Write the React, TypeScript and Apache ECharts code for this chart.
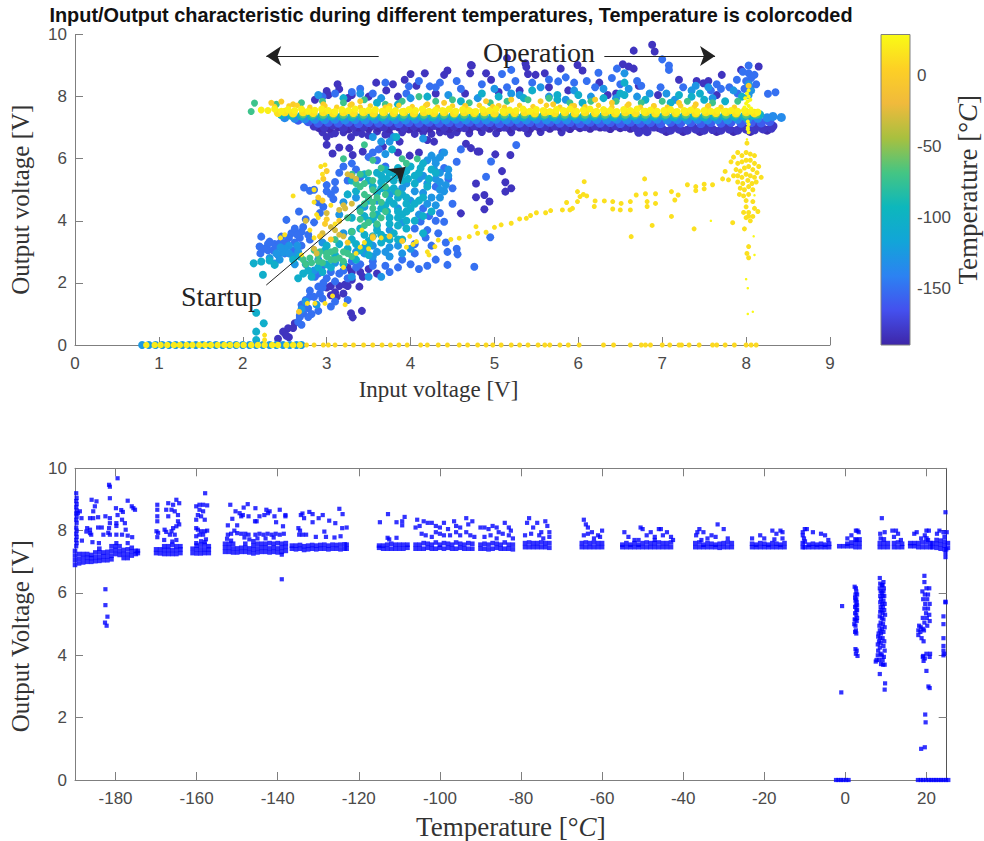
import React, { useEffect, useRef } from "react";
import * as echarts from "echarts";

const parula = ["#3E26A8", "#4450EE", "#2C82F2", "#12A5D8", "#0DB7BC", "#45C583", "#A8C03F", "#F0BA3C", "#FDD025", "#F9FB15"];
const tempTicks = [-180, -160, -140, -120, -100, -80, -60, -40, -20, 0, 20];
const cbarTicks = [-150, -100, -50, 0];

// ---- top chart: [inputV, outputV, ...] lists by temperature class
const bandPurple = [2.85,7.05,2.97,7.02,3.08,7.08,3.2,7.0,3.32,7.05,3.44,7.03,3.56,7.08,3.68,7.02,3.8,7.06,3.92,7.0,4.04,7.05,4.16,7.02,4.28,7.07,4.4,7.02,4.52,7.05,4.64,7.0,4.76,7.06,4.88,7.03,5,7.07,5.12,7.02,5.24,7.05,5.36,7.0,5.48,7.06,5.6,7.03,5.72,7.05,5.84,7.02,5.96,7.07,6.08,7.03,6.2,7.05,6.32,7.02,6.44,7.06,6.56,7.03,6.68,7.0,6.72,6.85,6.8,7.04,6.82,6.87,6.9,7.02,7.0,6.95,7.1,6.92,7.2,6.95,7.3,6.92,7.4,6.95,7.5,6.92,7.6,6.94,7.7,6.92,7.8,6.95,7.9,6.92,8.0,6.95,8.1,6.93,8.2,6.96,8.3,6.98,7.15,7.05,7.35,7.08,7.55,7.05,7.75,7.08,7.95,7.06,8.15,7.08,8.32,7.05];
const bandPurple2 = [2.91,7.0,3.03,6.98,3.14,7.03,3.26,6.96,3.38,7.02,3.5,6.98,3.62,7.0,3.74,6.97,3.86,7.02,3.98,6.96,4.1,7.0,4.22,6.98,4.34,7.02,4.46,6.97,4.58,7.0,4.7,6.96,4.82,7.02,4.94,6.98,5.06,7.0,5.18,6.97,5.3,7.02,5.42,6.96,5.54,7.0,5.66,6.98,5.78,7.02,5.9,6.97,6.02,7.0,6.14,6.98,6.26,7.02,6.38,6.97,6.5,7.0,6.62,6.98,6.76,7.0,6.96,7.0,7.05,6.88,7.25,6.88,7.45,6.88,7.65,6.88,7.85,6.88,8.05,6.88,8.25,6.92];
const bandIndigo = [2.66,7.25,2.78,7.2,2.9,7.15,3.02,7.18,3.14,7.15,3.26,7.18,3.38,7.14,3.5,7.17,3.62,7.15,3.74,7.18,3.86,7.14,3.98,7.17,4.1,7.15,4.22,7.18,4.34,7.15,4.46,7.17,4.58,7.14,4.7,7.18,4.82,7.15,4.94,7.17,5.06,7.14,5.18,7.18,5.3,7.15,5.42,7.17,5.54,7.14,5.66,7.18,5.78,7.15,5.9,7.17,6.02,7.14,6.14,7.18,6.26,7.15,6.38,7.17,6.5,7.14,6.62,7.18,6.74,7.15,6.86,7.17,6.98,7.14,7.1,7.18,7.22,7.15,7.34,7.17,7.46,7.14,7.58,7.17,7.7,7.15,7.82,7.18,7.94,7.15,8.06,7.17,8.18,7.16,8.28,7.2];
const bandBlue = [2.5,7.32,2.62,7.3,2.74,7.28,2.86,7.27,2.98,7.26,3.1,7.27,3.22,7.25,3.34,7.26,3.46,7.25,3.58,7.27,3.7,7.25,3.82,7.26,3.94,7.25,4.06,7.27,4.18,7.25,4.3,7.26,4.42,7.25,4.54,7.27,4.66,7.25,4.78,7.26,4.9,7.25,5.02,7.27,5.14,7.25,5.26,7.26,5.38,7.25,5.5,7.27,5.62,7.25,5.74,7.26,5.86,7.25,5.98,7.27,6.1,7.25,6.22,7.26,6.34,7.25,6.46,7.27,6.58,7.25,6.7,7.26,6.82,7.25,6.94,7.27,7.06,7.25,7.18,7.26,7.3,7.25,7.42,7.27,7.54,7.25,7.66,7.26,7.78,7.25,7.9,7.27,8.02,7.27,8.14,7.3,8.25,7.32,8.32,7.36,8.42,7.33];
const bandTeal = [2.46,7.42,2.58,7.4,2.7,7.38,2.82,7.37,2.94,7.36,3.06,7.37,3.18,7.36,3.3,7.35,3.42,7.36,3.54,7.37,3.66,7.35,3.78,7.36,3.9,7.35,4.02,7.37,4.14,7.36,4.26,7.35,4.38,7.37,4.5,7.36,4.62,7.35,4.74,7.36,4.86,7.37,4.98,7.35,5.1,7.36,5.22,7.37,5.34,7.35,5.46,7.36,5.58,7.37,5.7,7.35,5.82,7.36,5.94,7.37,6.06,7.35,6.18,7.36,6.3,7.37,6.42,7.35,6.54,7.36,6.66,7.37,6.78,7.35,6.9,7.36,7.02,7.37,7.14,7.35,7.26,7.36,7.38,7.37,7.5,7.35,7.62,7.36,7.74,7.37,7.86,7.36,7.98,7.37,8.08,7.4,8.16,7.42];
const bandGreen = [2.6,7.45,2.72,7.44,2.84,7.43,2.96,7.42,3.08,7.43,3.2,7.42,3.32,7.43,3.44,7.42,3.56,7.43,3.68,7.42,3.8,7.43,3.92,7.42,4.04,7.43,4.16,7.42,4.28,7.43,4.4,7.42,4.52,7.43,4.64,7.42,4.76,7.43,4.88,7.42,5,7.43,5.12,7.42,5.24,7.43,5.36,7.42,5.48,7.43,5.6,7.42,5.72,7.43,5.84,7.42,5.96,7.43,6.08,7.42,6.2,7.43,6.32,7.42,6.44,7.43,6.56,7.42,6.68,7.43,6.8,7.42,6.92,7.43,7.04,7.42,7.16,7.43,7.28,7.42,7.4,7.43,7.52,7.42,7.64,7.43,7.76,7.42,7.88,7.43,8,7.42,8.12,7.43];
const bandYellow = [2.22,7.57,2.3,7.55,2.38,7.6,2.46,7.53,2.54,7.58,2.62,7.55,2.7,7.6,2.78,7.53,2.86,7.56,2.94,7.6,3.02,7.55,3.1,7.52,3.18,7.58,3.26,7.55,3.34,7.6,3.42,7.53,3.5,7.56,3.58,7.58,3.66,7.53,3.74,7.6,3.82,7.55,3.9,7.52,3.98,7.58,4.06,7.55,4.14,7.6,4.22,7.53,4.3,7.57,4.38,7.55,4.46,7.6,4.54,7.53,4.62,7.58,4.7,7.55,4.78,7.52,4.86,7.58,4.94,7.55,5.02,7.6,5.1,7.53,5.18,7.57,5.26,7.55,5.34,7.6,5.42,7.53,5.5,7.58,5.58,7.55,5.66,7.52,5.74,7.58,5.82,7.55,5.9,7.6,5.98,7.53,6.06,7.57,6.14,7.6,6.22,7.53,6.3,7.58,6.38,7.55,6.46,7.52,6.54,7.58,6.62,7.55,6.7,7.6,6.78,7.53,6.86,7.57,6.94,7.53,7.02,7.55,7.1,7.58,7.18,7.52,7.26,7.55,7.34,7.57,7.42,7.52,7.5,7.55,7.58,7.53,7.66,7.55,7.74,7.52,7.82,7.55,7.9,7.53,7.98,7.55,8.06,7.53,8.14,7.5];
const bandYellow2 = [2.42,7.48,2.5,7.5,2.6,7.47,2.72,7.5,2.84,7.48,2.96,7.5,3.08,7.47,3.2,7.5,3.32,7.48,3.44,7.5,3.56,7.47,3.68,7.5,3.8,7.48,3.92,7.5,4.04,7.47,4.16,7.5,4.28,7.48,4.4,7.5,4.52,7.47,4.64,7.5,4.76,7.48,4.88,7.5,5,7.47,5.12,7.5,5.24,7.48,5.36,7.5,5.48,7.47,5.6,7.5,5.72,7.48,5.84,7.5,5.96,7.47,6.08,7.5,6.2,7.48,6.32,7.5,6.44,7.47,6.56,7.5,6.68,7.48,6.8,7.5,6.92,7.47,7.04,7.5,7.16,7.48,7.28,7.5,7.4,7.47,7.52,7.5,7.64,7.48,7.76,7.5,7.88,7.47,8,7.5,8.1,7.47];
const bandGold = [2.38,7.68,2.55,7.7,2.65,7.72,2.8,7.66,2.98,7.7,3.12,7.66,3.28,7.72,3.4,7.66,3.52,7.7,3.7,7.66,3.86,7.72,4.02,7.68,4.18,7.72,4.32,7.66,4.5,7.7,4.66,7.66,4.82,7.72,4.98,7.68,5.12,7.66,5.3,7.72,5.46,7.68,5.62,7.72,5.78,7.66,5.92,7.7,6.08,7.68,6.24,7.72,6.4,7.66,6.58,7.7,6.74,7.66,6.9,7.68,7.06,7.66,7.22,7.7,7.38,7.66,7.54,7.68,7.7,7.66,7.86,7.66];
const zeroBlue = [0.8,0,0.88,0,0.96,0,1.04,0,1.12,0,1.2,0,1.28,0,1.36,0,1.44,0,1.52,0,1.6,0,1.68,0,1.76,0,1.84,0,1.92,0,2,0,2.08,0,2.16,0,2.24,0,2.32,0,2.4,0,2.48,0,2.56,0,2.64,0,2.7,0];
const zeroYellow = [0.85,0,0.95,0,1.02,0,1.1,0,1.18,0,1.25,0,1.33,0,1.4,0,1.48,0,1.55,0,1.62,0,1.7,0,1.78,0,1.85,0,1.93,0,2.01,0,2.1,0,2.18,0,2.26,0,2.35,0,2.42,0,2.52,0,2.6,0,2.68,0];
const zeroGold = [2.76,0,2.85,0,2.96,0,3.02,0,3.1,0,3.22,0,3.32,0,3.44,0,3.55,0,3.66,0,3.76,0,3.86,0,3.96,0,4.12,0,4.2,0,4.33,0,4.44,0,4.58,0,4.68,0,4.8,0,4.9,0,4.98,0,5.08,0,5.2,0,5.3,0,5.4,0,5.52,0,5.6,0,5.66,0,5.78,0,5.88,0,6.01,0,6.3,0,6.42,0,6.62,0,6.75,0,6.8,0,6.86,0,7.0,0,7.09,0,7.2,0,7.23,0,7.32,0,7.44,0,7.6,0,7.65,0,7.75,0,7.86,0,8,0,8.06,0,8.12,0];
const purplePts = [6.88,9.67,6.66,9.48,6.91,9.45,5.15,9.24,5.37,9.07,5.38,8.95,4.72,9.02,5.49,8.7,5.6,8.75,4.9,8.75,4.96,8.54,5.4,8.73,5.79,8.9,6.05,8.84,5.99,9.02,6.53,9.04,6.6,8.97,6.66,8.9,7.2,8.54,7.71,8.7,7.94,8.86,8.15,8.97,4.73,9,4.71,8.75,4.44,8.84,4.17,8.75,4,8.73,3.59,8.45,3.13,8.4,3.93,8.54,3.79,8.4,4.07,8.35,3,8.18,3.15,8.24,3.02,8.05,2.86,7.9,3.71,8.2,4.4,8.7,3.0,6.7,3.06,6.8,3.29,6.7,3.2,6.85,3,6.45,3.15,6.36,3.27,6.34,3.07,6.17,3.31,6.12,3.43,6.23,3.67,6.39,3.87,6.55,4.2,6.6,4.28,6.55,4.48,6.77,4.66,6.48,4.8,6.23,4.78,5.2,4.78,4.76,4.6,4.24,4.72,6.34,4.82,6.23,5.01,6.14,5.19,6.12,5.09,5.6,5.13,5.24,5.2,5.05,5.13,4.94,4.88,4.83,4.94,4.62,4.88,4.37,3.99,6.1,3.85,6.2,4.1,6.2,4.35,6.85,3.5,6.75,3.35,6.85,3.75,6.8,3.9,6.85,4.05,6.8,2.5,0.38,2.42,0.2,2.54,0.54,2.48,0.43,3.29,1.02,3.31,0.89,3.42,1.1,3.2,1.66,3.39,1.88,3.43,2.2,3.1,1.7,3.05,1.9,3.3,2.35,3.5,2.45,7.49,8.43,7.41,8.5,6.72,8.35,6.45,8.1,
2.95,6.85,3.1,6.82,3.42,6.8,3.6,6.88,3.7,6.78,4.15,6.85,4.25,6.8,4.42,6.88,4.55,6.85,4.7,6.82,4.85,6.86,5.02,6.82,5.2,6.85,5.4,6.82,5.55,6.86,5.8,6.85,3.3,8.05,3.5,8,3.25,7.95,3.85,8.0,4.3,8.1,4.65,8.1,5.05,8.15,5.3,8.2,5.65,8.3,5.88,8.2,6.25,8.45,6.35,8.05,6.95,8.05,7.65,8.05,7.55,8.5,2.55,0.25,2.6,0.55,2.62,0.7,2.52,0.3,3.15,1.9,3.22,1.95,3.12,1.55,3.25,1.9,3.05,1.6,3.0,1.85,3.3,2.1,3.25,2.5,3.4,2.35,3.6,2.3];
const bluePts = [7,9.2,7.08,9,7.08,8.86,5.2,8.86,5.09,8.73,6.24,8.77,6.46,8.9,6.7,8.5,5.76,8.49,6.5,8.4,5.85,8.62,6.1,8.5,5.25,8.5,4.55,8.5,4.3,8.3,3.98,8.33,4.23,8.33,3.55,8.1,3.95,8.1,3.3,8.15,8.03,9,7.96,8.8,8.03,8.75,8.06,8.6,8,8.5,7.89,8.54,7.8,8.3,7.65,8.4,7.58,8.2,7.9,8.1,8.26,8.09,8.35,8.14,8.05,8.3,8.1,8.7,5.26,6.44,4.96,5.91,4.9,5.42,4.95,3.47,4.76,2.52,4.44,2.58,4.56,2.92,4.44,3,4.4,3.97,4.12,3.98,4.18,3.46,4.33,3.6,4.22,4.15,4.5,4.55,4.6,6.3,4.55,5.9,4.4,5.7,4.45,5.35,4.5,5.05,4.3,5.1,4.38,6.2,2.22,3.49,2.2,3.17,2.21,2.95,2.32,3.33,2.38,3.25,2.46,3.49,2.52,4.03,2.67,4.3,2.73,5.07,2.8,4.97,2.58,3.6,2.62,3.75,2.7,3.65,2.5,3.1,2.6,3.05,2.42,2.9,2.3,3.05,2.9,4.6,2.85,3.95,2.75,4.05,2.8,3.4,3.0,5.15,3.05,4.85,3.3,5.85,3.15,5.55,3.1,5.0,3.4,5.4,3.6,5.95,3.7,5.75,2.66,0.75,2.72,1.02,2.78,1.18,2.8,1.56,2.9,1.88,3.05,1.24,3.1,1.4,2.86,2.2,3.0,2.15,3.15,2.3,3.35,2.5,3.55,2.7,3.7,2.55,3.9,2.75,4.05,2.95,4.1,2.45,3.3,2.7,2.95,2.55,2.95,1.5,3.25,1.45,
2.3,3.25,2.36,3.05,2.25,3.1,2.4,3.15,2.45,3.3,2.52,3.3,2.55,3.45,2.5,2.95,2.62,3.3,2.68,3.45,2.7,3.2,2.78,3.55,2.72,3.8,2.65,3.55,2.68,0.9,2.7,1.3,2.75,1.45,2.8,1.75,2.85,1.55,2.92,1.65,2.95,1.85,2.9,1.1,2.82,1.0,2.78,0.9,2.7,0.65,2.68,0.95,2.96,2.0,3.1,2.05,3.25,2.15,2.9,2.3,3.05,2.35,3.2,2.4,3.4,2.6,3.55,2.55,3.75,2.35,3.85,2.5,4.0,2.6,4.2,2.55,4.3,2.75,4.05,3.25,4.2,3.7,4.05,3.75,4.3,4.0,4.15,4.4,4.35,4.25,4.25,3.2,4.42,3.3,4.55,3.1,3.5,6.05,3.55,6.2,3.62,6.3,3.35,5.65,3.2,5.75,2.85,5.0,2.92,4.25,2.96,4.45,3.08,4.7,3.0,4.95,3.1,5.25,3.25,5.3,
3.4,8.25,3.7,8.45,4.1,8.5,4.35,8.45,4.6,8.25,4.85,8.4,5.15,8.3,5.45,8.45,5.65,8.55,5.95,8.45,6.2,8.3,6.4,8.6,6.75,8.35,6.98,8.3,7.25,8.3,7.7,8.25,7.98,8.25,8.12,8.4,2.95,8.0,3.1,8.1];
const skyPts = [6.55,8.75,7.4,8.35,5.3,8.05,5.55,8.3,5.95,8.2,6.3,8.25,6.6,8.25,6.85,8.1,7.05,8.1,7.35,8.2,7.55,8.3,8.03,8.4,8.06,8.2,8.03,8.05,3.55,6.7,3.8,6.7,4.15,6.65,4.25,6.1,4.3,5.85,4.4,6.2,4.35,5.55,4.45,5.65,4.2,5.2,4.15,4.9,4.4,4.95,4.3,4.5,3.95,5.2,4,4.65,4.1,4.2,3.9,3.95,3.75,3.7,3.55,3.2,3.7,3.0,3.55,2.85,3.35,3.0,3.1,2.65,2.9,2.75,2.65,3.2,2.55,3.2,2.48,2.98,2.44,2.75,2.38,2.62,2.32,2.8,3.2,3.6,3.15,4.2,3.2,4.6,3.35,4.75,2.75,1.4,2.88,1.3,2.7,1.15,2.85,2.4,3.45,3.15,3.85,4.4,2.95,3.3,
2.9,8.05,3.4,8.1,3.65,7.95,4.0,7.95,4.45,8.05,4.8,7.95,5.0,8.25,5.2,8.1,5.65,8.0,5.85,7.9,6.15,8.0,6.45,7.95,6.7,8.0,7.15,7.9,7.6,7.95,7.85,8.2,
2.5,3.1,2.55,2.95,2.6,2.85,2.66,3.0,2.45,3.15,2.4,2.95,2.75,2.6,2.62,2.6,3.3,2.2,3.5,2.2,3.65,2.2,3.45,2.95,3.6,3.0,3.75,3.15,3.85,3.2,3.9,2.95,4.0,3.1,3.75,2.85,3.45,4.45,3.6,4.65,3.75,4.85,3.9,5.05,4.1,5.35,4.3,5.35,4.35,5.0,4.25,4.75,4.35,4.75,4.2,4.55,4.05,4.95,4.3,5.95,4.2,5.95,4.35,6.05,4.28,5.65,4.15,5.45,4.35,5.25,4.42,5.15,4.45,5.45,3.7,6.15,3.75,6.55,3.65,6.55];
const cyanPts = [5.45,8.2,5.75,8.05,6,8.05,6.55,8.45,6.5,8.1,7.2,8.05,7.45,8.1,2.13,2.63,2.22,2.69,2.24,2.26,2.38,2.58,2.32,2.72,2.16,1.04,2.16,0.43,2.16,0.16,2.25,0.7,2.82,2.2,2.72,2.3,2.66,2.15,2.9,2.5,3,2.6,3.1,2.9,3.25,3.1,3.3,3.4,3.45,3.55,3.6,3.7,3.75,3.9,3.85,4.1,3.95,4.3,4.05,4.55,4.15,4.75,3.85,4.75,3.7,4.5,3.6,4.2,3.5,4.0,3.9,5.3,3.95,5.6,4.05,5.2,4.1,5.55,4.15,5.85,3.8,5.05,3.65,5.25,3.5,4.65,3.4,4.4,3.3,4.1,3.75,5.55,3.6,4.9,4.2,5.1,4.25,5.65,3.78,6.3,3.83,6.7,3.7,3.45,3.9,3.4,3.55,3.5,
3.2,7.95,3.6,7.8,3.85,7.75,4.2,8.0,4.6,7.85,4.85,8.1,5.05,8.0,5.35,7.95,5.75,7.9,6.05,7.8,6.3,7.95,6.55,8.05,6.8,7.9,7.1,7.8,7.35,8.0,7.5,7.9,7.75,7.85,7.95,8.0,
2.6,2.75,2.68,2.85,2.78,2.4,2.95,2.35,3.05,2.5,3.2,2.6,3.35,2.75,3.5,2.9,3.65,3.3,3.8,3.6,3.95,3.75,4.05,4.0,4.15,4.15,3.95,4.0,3.85,3.85,3.65,3.55,3.5,3.35,3.35,3.25,3.3,3.65,3.45,4.15,3.55,4.05,3.65,4.4,3.8,4.55,3.95,4.55,4.1,4.65,3.9,4.85,3.75,4.65,3.65,5.05,3.55,5.1,3.5,5.3,3.65,5.45,3.8,5.3,3.9,5.5,4.05,5.45,4.0,5.75,3.85,5.7,4.12,5.7,3.7,5.65,3.6,5.55,3.45,5.5,3.3,5.3,3.35,4.95,3.25,4.85,3.4,3.75,
3.75,4.1,3.9,4.2,3.72,4.3,3.85,4.3,4.0,4.4,3.95,4.75,3.82,4.95,3.72,5.0,3.6,3.85,3.75,3.4,3.85,3.4,3.15,3.25,3.0,3.2,2.98,3.05,3.4,3.05,3.5,3.2,4.25,4.3,4.15,3.6,4.22,5.35,4.3,5.55,3.97,5.35,3.72,5.35,3.82,5.45];
const greenPts = [2.4,7.75,2.14,7.79,2.1,7.52,2.7,7.8,2.95,7.85,3.2,7.8,3.45,7.9,3.7,7.75,3.9,7.85,4.1,8,4.3,7.85,4.5,7.9,4.7,7.8,4.95,7.8,5.15,7.85,5.4,7.9,5.65,7.95,5.9,7.8,6.15,7.85,6.45,7.85,6.75,7.8,7,7.85,7.3,7.85,7.6,7.8,7.9,7.85,3.45,6.45,3.2,6.0,3.55,5.95,3.9,6.0,3.95,5.85,4.08,6.0,3.3,5.5,3.4,5.1,3.55,5.3,3.7,5.1,3.85,4.9,3.5,4.75,3.4,4.3,3.55,4.4,3.7,4.3,3.45,3.85,3.3,3.65,3.2,3.0,3.05,3.0,2.9,2.9,2.8,2.8,2.72,2.75,2.95,2.65,3.15,2.8,3.3,2.85,3.05,2.75,2.85,3.05,3.1,3.4,3.25,4.1,
2.75,2.6,2.82,2.65,2.9,2.7,3.0,2.85,3.1,2.75,3.2,2.7,3.25,2.95,3.0,2.95,2.92,3.0,3.1,3.05,3.55,4.6,3.45,4.55,3.55,4.2,3.6,3.9,3.65,4.1,3.5,3.95,3.4,4.05,3.45,4.85,3.6,4.75,3.45,5.2,3.55,5.0,3.35,5.2,3.65,4.6,3.7,4.85,3.5,5.55,3.65,5.7,3.4,5.5];
const olivePts = [3.25,5.5,3.3,5.45,3.35,5.35,3.2,4.5,3.15,4.35,3.05,3.8,3.2,3.5,2.95,3.6,2.85,3.1,3.3,4.55,3.0,4.25,2.75,4.0,3.55,3.5,2.88,2.95,3.22,4.4,3.1,3.7,3.15,3.55];
const orangePts = [2.34,7.8,2.46,7.84,2.6,7.75,2.96,7.75,3.3,7.75,3.75,7.7,4.2,7.75,4.65,7.7,5.05,7.7,5.55,7.85,5.95,7.7,6.4,7.8,6.9,7.7,7.4,7.75,7.55,7.7,8.03,8.35,3,5.6,2.96,5.35,2.9,4.75,2.95,4.65,3.0,4.05,2.98,3.9,3.15,4.0,2.92,3.5,3.05,3.4,3.25,3.3,2.67,1.07,3.55,3.45,3.75,3.5,3.9,3.35,3.4,7.85,4.4,7.8,4.9,7.85,5.2,7.9,5.7,7.75,6.2,7.9,6.6,7.75,7.2,7.8];
const goldPts = [2.93,5.75,2.98,5.8,2.95,5.5,2.9,5.25,2.85,5,2.6,4.8,2.85,4.6,2.88,4.2,2.9,4.1,3.05,4.5,3.1,3.9,2.8,3.7,2.85,3.45,2.5,3.55,2.45,3.45,2.7,2.9,3.4,3.15,3.45,3.3,3.35,2.95,3.42,3.7,3.2,2.5,3.22,1.3,3.07,1.58,2.98,1.34,2.86,1.34,2.77,1.34,3.5,3.1,3.65,3.45,3.95,3.15,2.26,0.32,2.26,0.16,4.48,3.4,4.58,3.44,4.7,3.49,4.78,3.81,4.8,3.6,4.29,3.17,4.33,3.38,4.2,3,4.22,2.9,4.07,3.33,3.99,3.5,4.03,3.24,4.9,3.63,5,3.79,5.08,3.87,5.2,3.92,5.3,4.06,5.38,4.08,5.43,4.17,5.5,4.26,5.61,4.26,5.67,4.33,5.81,4.35,5.9,4.35,5.86,4.59,5.93,4.4,5.99,4.62,5.99,4.94,6.02,4.78,6.07,5.26,6.1,4.8,6.06,4.85,6.2,4.64,6.19,4.46,6.31,4.64,6.41,4.62,6.41,4.38,6.51,4.56,6.5,4.35,6.62,4.62,6.62,4.35,6.69,4.83,6.63,3.49,6.79,5.35,6.8,4.87,6.82,4.62,6.82,4.46,6.92,4.87,6.92,4.56,6.88,3.85,7.11,4.94,7.11,4.14,7.15,4.67,7.19,4.83,7.3,5.16,7.4,5.1,7.4,4.97,7.5,5.18,7.5,5.03,7.6,5.16,7.38,3.74,7.84,3.94,7.75,5.59,7.72,5.35,7.79,5.32,7.98,3.74,8.01,6.5,7.85,6.05,7.9,6.2,7.95,6.1,8,6.2,8.05,6.15,8.1,6.1,7.82,5.9,7.9,5.85,7.95,5.9,8.0,5.95,8.05,5.95,8.1,5.85,8.15,5.75,7.88,5.65,7.93,5.6,7.98,5.7,8.03,5.75,8.08,5.65,8.13,5.55,7.85,5.45,7.9,5.45,7.95,5.4,8,5.5,8.05,5.45,8.1,5.4,8.18,5.4,7.9,5.25,7.96,5.2,8.02,5.3,8.07,5.2,8.12,5.25,7.93,5.05,7.98,5,8.03,5.1,8.08,5,7.92,4.85,7.97,4.8,8.03,4.85,8.0,4.65,8.08,4.62,8,4.45,8.1,4.4,7.97,4.27,8.03,4.27,8.14,4.3,8.08,4.14,8.03,4.15,8.05,4.0,8,4.1,8.03,3.17,8.01,2.95,8.03,2.81];
const spikeYellow = [8.02,7.0,8.03,6.85,8.02,7.2,8.03,7.7,8.02,7.85,8.03,8,8.01,8.1,8.03,8.2,7.98,7.65,8.06,7.62,8.0,7.78,8.05,7.9,7.99,7.95,8.02,6.95,8.03,7.1];
const tinyYellow = [7.58,4,8.09,3.5,8.1,2.9,8,2.12,8.02,1.83,8.02,1,8.08,1.07,8.01,6.62,8.1,4.82];
const topLayers = [
  [purplePts, -182, 8], [bluePts, -150, 8], [skyPts, -128, 8], [cyanPts, -105, 8], [greenPts, -72, 7], [olivePts, -28, 6], [orangePts, 0, 6],
  [bandPurple2, -187, 9], [bandPurple, -180, 9], [bandIndigo, -160, 9.5], [bandBlue, -135, 9], [bandTeal, -100, 9], [bandGreen, -65, 8.5], [bandGold, 5, 5.5], [bandYellow2, 15, 8.5], [bandYellow, 23, 7],
  [zeroBlue, -125, 8], [zeroYellow, 20, 6.5], [zeroGold, 10, 5], [goldPts, 14, 5], [spikeYellow, 28, 4], [tinyYellow, 28, 2.5],
];

const arrows = [
  { from: [3.62, 9.31], to: [2.28, 9.31] },
  { from: [6.31, 9.31], to: [7.63, 9.31] },
  { from: [2.28, 1.93], to: [3.94, 5.73] },
];

// ---- bottom chart: [temperature, output voltages...] of the solid band
const tempBand = [
  [-190,6.9,7.05,7.2,7.35],[-189,6.95,7.1,7.25],[-188,6.98,7.12,7.25],[-187,7,7.13,7.25],[-186,7,7.12,7.22],[-185,7.02,7.15,7.3],[-184,7.03,7.15,7.3,7.42],[-183,7.05,7.18,7.3],[-182,7.05,7.18,7.32],[-181,7.08,7.2,7.35,7.5],[-180,7.25,7.38,7.5],[-179,7.22,7.35,7.5],[-178,7.12,7.25,7.38],[-177,7.12,7.25,7.4],[-176,7.2,7.33,7.45],[-175,7.25,7.35],[-174.5,7.28,7.35],
  [-170,7.28,7.4],[-169,7.27,7.4],[-168,7.25,7.38,7.5],[-167,7.25,7.38,7.5],[-166,7.25,7.38,7.55],[-165,7.25,7.38,7.5],[-164,7.28,7.4,7.5],
  [-161,7.28,7.42],[-160,7.27,7.4,7.52],[-159,7.27,7.4,7.55],[-158,7.28,7.4,7.55],[-157,7.28,7.4,7.5],
  [-153,7.32,7.45,7.58],[-152,7.32,7.45,7.58],[-151,7.3,7.43,7.58],[-150,7.3,7.43],[-149,7.32,7.45],[-148,7.32,7.45,7.58],[-147,7.3,7.43],
  [-146,7.27,7.4,7.53,7.66],[-145,7.3,7.43,7.58],[-144,7.32,7.45,7.58],[-143,7.32,7.45,7.58],[-142,7.3,7.43,7.6],[-141,7.32,7.45,7.58],[-140,7.3,7.43,7.6],[-139,7.32,7.45,7.58],[-138,7.35,7.48,7.6],
  [-136.5,7.42,7.52],[-135.5,7.4,7.52],[-134.5,7.42,7.54],[-133.5,7.38,7.5],[-132.5,7.4,7.52],[-131.5,7.42,7.54],[-130.5,7.4,7.52],[-129.5,7.42,7.54],[-128.5,7.42,7.55],[-127.5,7.4,7.52],[-126.5,7.42,7.55],[-125.5,7.42,7.54],[-124.5,7.4,7.55],[-123.5,7.42,7.56],[-123,7.42,7.55],
  [-115,7.45,7.52],[-114,7.42,7.52],[-113,7.42,7.55],[-112,7.42,7.58],[-111,7.42,7.55],[-110,7.42,7.55],[-109,7.42,7.55],[-108,7.45,7.55],
  [-106,7.42,7.55],[-105,7.42,7.55],[-104,7.42,7.6],[-103,7.45,7.58],[-102,7.42,7.55],[-101,7.42,7.62],[-100,7.45,7.55],[-99,7.42,7.6],[-98,7.45,7.58],[-97,7.42,7.55],[-96,7.42,7.62],[-95,7.45,7.58],[-94,7.42,7.55],[-93,7.42,7.6],[-92,7.42,7.58],
  [-90,7.42,7.55],[-89,7.42,7.58],[-88,7.4,7.55],[-87,7.42,7.6],[-86,7.45,7.58],[-85,7.42,7.55],[-84,7.42,7.62],[-83,7.42,7.55],[-82,7.4,7.55],
  [-79,7.47,7.6],[-78,7.47,7.62],[-77,7.47,7.6],[-76,7.47,7.6],[-75,7.47,7.62],[-74,7.47,7.6],[-73,7.45,7.6],
  [-65,7.47,7.6],[-64,7.47,7.62],[-63,7.47,7.6],[-62,7.47,7.62],[-61,7.47,7.6],[-60,7.47,7.6],
  [-55,7.47,7.55],[-54,7.47,7.6],[-53,7.47,7.55],[-52,7.47,7.6],[-51,7.47,7.55],[-50,7.47,7.6],[-49,7.47,7.62],[-48,7.47,7.6],[-47,7.47,7.6],[-46,7.47,7.62],[-45,7.47,7.6],[-44,7.47,7.6],[-43,7.47,7.62],
  [-37,7.47,7.6],[-36,7.47,7.62],[-35,7.47,7.55],[-34,7.47,7.6],[-33,7.47,7.58],[-32,7.47,7.55],[-31,7.45,7.58],[-30,7.47,7.6],[-29,7.47,7.62],[-28,7.47,7.6],
  [-23,7.47,7.58],[-22,7.47,7.55],[-21,7.47,7.6],[-20,7.47,7.58],[-19,7.47,7.55],[-18,7.47,7.6],[-17,7.47,7.58],[-16,7.47,7.55],[-15,7.47,7.6],
  [-10.5,7.47,7.6],[-10,7.47,7.65],[-9,7.47,7.55],[-8,7.47,7.58],[-7,7.47,7.55],[-6,7.47,7.58],[-5,7.47,7.55],[-4,7.47,7.58],
  [-1.5,7.5],[-0.5,7.5],[0.5,7.5,7.58],[1.5,7.5,7.62],[2.5,7.47,7.6,7.72],[3.5,7.47,7.6,7.72],
  [8.5,7.47,7.6],[9.5,7.47,7.6,7.72],[10.5,7.47,7.6],[12,7.47,7.6],[13,7.47,7.62],[14,7.47,7.58],
  [16,7.5,7.6],[17,7.5,7.6],[18,7.47,7.6],[19,7.47,7.62],[20,7.47,7.62,7.75],[21,7.47,7.6],
  [21.5,7.47,7.6],[22.5,7.45,7.58,7.7],[23.5,7.42,7.55,7.68],[24.5,7.4,7.52,7.65,7.8],[25.3,7.45,7.6],
];
const tempScatter = [-189.7,9.2,-189.6,9.05,-189.7,8.95,-189.6,8.85,-189.7,8.75,-189.6,8.65,-189.7,8.55,-189.6,8.45,-189.7,8.35,-189.6,8.25,-189.7,8.1,-189.6,8,-189.7,7.9,-189.6,7.8,-189.7,7.7,-189.6,7.6,-189.7,7.5,-189.3,8.56,-188.8,8.62,-188.4,8.4,-188.3,7.68,-185.9,8.99,-184.7,8.94,-185.1,8.78,-185.5,8.62,-184.3,8.43,-186.3,8.4,-185.5,8.4,-184.3,8.1,-183.4,8.1,-187,8.08,-186.3,8.03,-187.2,7.97,-186.3,7.92,-186,7.87,-183,7.87,-184.1,7.6,-185.7,7.63,-182.5,8.46,-181.4,8.4,-181.4,8.24,-181.6,8.08,-181.8,7.93,-181.4,7.87,-181.6,9.47,-181.4,9.41,-179.5,9.68,-181.4,9.04,-179.9,8.72,-178.6,8.66,-178.2,8.6,-179.5,8.5,-178.4,8.35,-179.8,8.24,-179.8,8.15,-177.7,8.24,-177.5,8.03,-179.8,7.87,-178.4,7.87,-177,7.84,-175.9,7.79,-177,8.96,-176,8.78,-175.6,8.72,-175.2,8.67,-179.8,7.6,-177,7.6,-182.5,6.12,-182.5,5.61,-182,5.24,-182.6,5.05,-182.2,4.95,
-169.7,8.83,-169.7,8.67,-169.7,8.46,-169.7,8.3,-169.9,7.98,-169.5,7.93,-169.7,7.79,-167,8.88,-167.5,8.67,-167,8.46,-165,8.99,-164.3,8.88,-165.8,8.83,-166.2,8.67,-165.4,8.62,-164.6,8.5,-164.6,8.3,-164.3,8.2,-165,8.14,-165.8,8.08,-167.9,8.03,-166.2,7.98,-167.5,7.96,-165.4,7.87,-166.6,7.87,-168,7.7,-165,7.7,-166,7.65,
-157.9,9.2,-160.1,8.78,-159.3,8.83,-158.4,8.83,-157.4,8.81,-159.3,8.67,-158.4,8.62,-159.7,8.5,-158.9,8.46,-160.1,8.35,-158,8.35,-160.1,8.08,-159.7,8.03,-158.9,7.98,-158,7.98,-157.4,8,-159.3,7.87,-158.4,7.87,-160.1,7.82,-158.9,7.66,-157.7,7.72,-160.1,7.6,-158,7.63,
-151.7,8.83,-150.4,8.62,-149.4,8.56,-148.6,8.5,-147.4,8.85,-148.4,8.74,-149,8.46,-147.2,8.46,-151.2,8.38,-152.3,8.17,-150,8.17,-150.7,8,-152.3,7.87,-151.5,7.9,-150,7.92,-149,7.9,-148,7.9,-147.2,7.87,-152.5,7.74,-151.5,7.68,-148.2,7.78,-147,7.72,
-145.5,8.72,-145.2,8.3,-145.6,8.3,-144.5,8.46,-143.3,8.5,-142.4,8.56,-142,8.62,-142.8,8.67,-140.8,8.46,-140.4,8.27,-139.5,8.67,-138.1,8.5,-138.1,8.46,-138.7,8.14,-145.5,7.87,-144.5,7.9,-143.5,7.87,-142.5,7.9,-141.5,7.87,-140.5,7.9,-139.5,7.87,-138.5,7.9,-145,7.75,-143,7.75,-141,7.78,-139,7.23,-139,6.44,
-134.3,8.5,-133.9,8.55,-132.2,8.6,-131.4,8.53,-133.5,8.4,-131.4,8.27,-129.9,8.4,-128.9,8.5,-127.3,8.32,-125.8,8.24,-124.8,8.7,-124,8.53,-123,8.1,-124.1,8.08,-134.9,8.08,-134.5,8,-134.7,7.87,-133.9,7.87,-133,7.87,-130.6,7.8,-128.5,7.97,-128.1,7.8,-126,7.78,-124.5,7.82,
-114.8,8.27,-112.8,8.53,-110.7,8.27,-108.7,8.44,-109.3,8.3,-109.3,8.17,-112.9,7.77,-112.5,7.72,-110.7,7.77,
-106,8.1,-105.6,8.35,-105,8.15,-104,8.3,-103,8.25,-102,8.25,-101,8.15,-100,8.1,-99,8.25,-98,8.05,-96.5,8.3,-96,8.15,-95,8.1,-93.5,8.4,-93,8.2,-92,8.3,-104.5,7.9,-103.5,7.85,-102,7.8,-101,7.95,-100,7.9,-99,7.85,-97.5,7.85,-96,7.95,-95,7.85,-93.5,7.95,-92.5,7.85,-91.5,7.8,
-90,8.1,-89,8.1,-88,8.05,-87,8.15,-86,8.1,-85.5,7.95,-84,8.25,-83,8.1,-82.5,8,-89,7.8,-87.5,7.85,-86,7.75,-84.5,7.9,-83,7.85,-82,7.75,
-78,8.4,-78.5,8.25,-77,8.1,-76,8.25,-75,7.95,-74,8.3,-73.5,8.15,-73,7.95,-79,7.85,-77.5,7.9,-75.5,7.85,-74.5,7.75,-73,7.8,
-64.5,8.35,-64,8.2,-63.5,8.1,-62.5,7.95,-61,7.85,-60,8,-64.5,7.85,-63.5,7.9,-62,7.75,-60.5,7.8,
-54.5,7.95,-53.5,7.8,-52,7.7,-50.5,8.1,-50,8.05,-49,7.85,-48,7.95,-47,7.8,-46,8.05,-45.5,8.05,-45,7.85,-44,7.95,-43,7.8,-42.5,7.7,-51,7.7,-47,7.7,
-36.5,7.95,-36,8.05,-36.8,7.85,-35,7.95,-34,7.75,-33,7.85,-32,7.8,-31.5,8.2,-30,8.05,-35.5,7.7,-29,7.75,
-23,7.75,-21,7.85,-20,7.75,-18,8,-17,7.9,-16,8,-15.5,7.95,-15.5,7.75,-17.5,7.72,
-10.5,7.95,-10,8.05,-9.5,8.05,-10.5,7.85,-8,7.95,-6,7.9,-5,7.85,-4.2,7.7,-10.2,7.75,
0.5,7.75,1.5,7.85,2.6,8,3,8,3.3,7.95,2.8,7.7,
9,8.4,8.6,7.9,9.7,7.95,8.7,7.75,11.6,8,12.5,8,13,7.9,12,7.8,13.7,7.7,
17,7.9,17.6,7.95,18.7,7.75,20,8,20.6,8,19.6,7.85,20.4,7.7,
22.6,7.9,23.2,8,24.2,7.95,25,7.95,24.7,8.59,24.7,7.28,24.7,7.15,24.9,7.4,
-0.8,5.58,-1,2.81,
2.3,6.2,2.6,6.15,2.7,6.05,2.5,5.95,2.7,5.8,2.9,5.95,2.4,5.85,2.5,5.75,2.8,5.7,2.6,5.6,2.9,5.6,2.4,5.55,2.7,5.45,2.9,5.45,2.4,5.35,2.7,5.3,2.9,5.2,2.5,5.15,2.8,5.1,2.3,5.15,2.2,5.0,2.5,4.95,2.6,4.8,2.4,4.75,2.7,4.7,2.5,4.2,2.8,4.15,2.6,4.05,3,3.98,
8.5,6.48,9.4,6.35,9.2,6.25,8.6,6.3,9,6.25,8.5,6.15,9.5,6.15,8.7,6.05,9.4,6.05,9,6,8.6,5.9,9.2,5.9,9.6,5.9,8.8,5.8,9.4,5.75,8.6,5.7,9.1,5.65,9.7,5.65,8.7,5.55,9.3,5.55,8.9,5.45,9.6,5.45,8.6,5.4,9.2,5.35,9.8,5.3,8.5,5.25,9,5.2,9.4,5.15,8.7,5.05,9.3,5,8.4,4.95,9.7,4.9,9,4.85,8.5,4.8,9.4,4.75,8.2,4.7,8.8,4.7,8.1,4.6,8.6,4.55,9.2,4.55,8.3,4.45,8.7,4.4,9.6,4.45,8,4.35,8.5,4.25,9.4,4.3,8.1,4.15,8.7,4.05,9.7,4.15,8,4,9,4,9.5,3.95,7.7,3.85,8.3,3.85,9.2,3.85,7.5,3.8,9.7,3.7,8.8,3.72,9.3,3.7,8.5,3.4,9.8,3.1,9.7,2.9,
19.5,6.55,19.5,6.35,20,6.15,20.7,6.15,19,6.05,19.6,5.95,20.4,5.95,19.2,5.8,20.2,5.8,19.7,5.65,20.8,5.65,19.5,5.5,20.4,5.5,19.9,5.35,20.7,5.3,19.1,5.2,20.1,5.2,20.8,5.1,19.5,5.05,18.2,4.95,20.2,4.95,18.6,4.9,19.1,4.85,18,4.8,18.5,4.75,19.4,4.8,18,4.65,18.8,4.55,19.3,4.45,20,4.05,20.9,4.05,19.1,3.95,20.8,3.95,19.2,3.98,19.6,3.9,19.3,3.82,20,3.5,20.5,3,20.8,2.95,19.7,2.1,19.8,1.85,18.7,1,19.6,1.05,
24.7,5.72,24.7,5.7,24.2,5.25,24.2,5,24.2,4.55,24.2,4.3,24.2,4.15,24.4,4.05,24.2,4,
-2.3,0,-1.7,0,-1.1,0,-0.5,0,0.2,0,0.8,0,17.9,0,18.6,0,19.2,0,19.9,0,20.6,0,21.2,0,21.8,0,22.4,0,23,0,23.6,0,24.2,0,24.8,0,25.4,0];

const pairs = (flat: number[], t?: number) => {
  const out: number[][] = [];
  for (let i = 0; i + 1 < flat.length; i += 2) out.push(t === undefined ? [flat[i], flat[i + 1]] : [flat[i], flat[i + 1], t]);
  return out;
};
const bandPoints = () => {
  const out: number[][] = [];
  tempBand.forEach((row) => row.slice(1).forEach((v) => out.push([row[0], v])));
  return out;
};

const AXIS = "#7f7f7f";
const LABEL = "#4a4a4a";
const SERIF = "Liberation Serif";
const SANS = "Liberation Sans";
const nameRich = {
  a: { fontFamily: SERIF, fontSize: 27, color: "#333" },
  c: { fontFamily: SERIF, fontSize: 27, color: "#333", fontStyle: "italic" },
};
const tempName = "{a|Temperature [°}{c|C}{a|]}";
const lab = { color: LABEL, fontFamily: SANS, fontSize: 17 };

export default function App() {
  const ref = useRef<HTMLDivElement>(null);
  useEffect(() => {
    const chart = echarts.init(ref.current!, undefined, { renderer: "svg" });
    const topSeries: any[] = topLayers.map(([pts, t, size]: any) => ({
      type: "scatter", xAxisIndex: 0, yAxisIndex: 0, data: pairs(pts, t), symbolSize: size, clip: false,
      itemStyle: { opacity: 1 }, silent: true,
    }));
    const stops = parula.map((color, i) => ({ offset: 1 - i / (parula.length - 1), color }));
    const line = { onZero: false, lineStyle: { color: AXIS } };
    chart.setOption({
      animation: false,
      backgroundColor: "#fff",
      title: {
        text: "Input/Output characteristic during different temperatures, Temperature is colorcoded",
        left: 446, top: 0, textAlign: "center",
        textStyle: { fontFamily: SANS, fontWeight: "bold", fontSize: 19.9, color: "#111" },
      },
      grid: [
        { left: 73.3, top: 34.5, width: 756.7, height: 310.5 },
        { left: 73.3, top: 468.3, width: 873.4, height: 313.4 },
        { left: 881, top: 34.5, width: 29, height: 310.5 },
      ],
      visualMap: {
        show: false, type: "continuous", dimension: 2, min: -190, max: 29,
        seriesIndex: topSeries.map((_, i) => i), inRange: { color: parula },
      },
      xAxis: [
        { gridIndex: 0, type: "value", min: 0, max: 9, interval: 1, splitLine: { show: false },
          axisLine: line, axisTick: { inside: true, length: 8, lineStyle: { color: AXIS } },
          axisLabel: { ...lab, margin: 10 }, name: "Input voltage [V]", nameLocation: "middle", nameGap: 33,
          nameTextStyle: { fontFamily: SERIF, fontSize: 23, color: "#333", padding: [0, 28, 0, 0] } },
        { gridIndex: 1, type: "value", min: -190, max: 25, splitLine: { show: false },
          axisLine: line,
          axisTick: { inside: true, length: 8, lineStyle: { color: AXIS }, customValues: tempTicks },
          axisLabel: { ...lab, margin: 10, customValues: tempTicks },
          name: tempName, nameLocation: "middle", nameGap: 33, nameTextStyle: { rich: nameRich } },
        { gridIndex: 1, type: "value", position: "top", min: -190, max: 25, splitLine: { show: false },
          axisLine: line,
          axisTick: { inside: true, length: 8, lineStyle: { color: AXIS }, customValues: tempTicks },
          axisLabel: { show: false, customValues: tempTicks } },
        { gridIndex: 2, type: "value", min: 0, max: 1, show: false },
      ],
      yAxis: [
        { gridIndex: 0, type: "value", min: 0, max: 10, interval: 2, splitLine: { show: false },
          axisLine: { show: true, ...line }, axisTick: { show: true, inside: true, length: 8, lineStyle: { color: AXIS } },
          axisLabel: { ...lab, margin: 8 }, name: "Output voltage [V]", nameLocation: "middle", nameGap: 42,
          nameTextStyle: { fontFamily: SERIF, fontSize: 25, color: "#333", padding: [0, 20, 0, 0] } },
        { gridIndex: 1, type: "value", min: 0, max: 10, interval: 2, splitLine: { show: false },
          axisLine: { show: true, ...line }, axisTick: { show: true, inside: true, length: 8, lineStyle: { color: AXIS } },
          axisLabel: { ...lab, margin: 8 }, name: "Output Voltage [V]", nameLocation: "middle", nameGap: 42,
          nameTextStyle: { fontFamily: SERIF, fontSize: 25, color: "#333", padding: [0, 24, 0, 0] } },
        { gridIndex: 1, type: "value", position: "right", min: 0, max: 10, interval: 2, splitLine: { show: false },
          axisLine: { show: true, onZero: false, lineStyle: { color: "#555" } }, axisTick: { show: true, inside: true, length: 8, lineStyle: { color: AXIS } },
          axisLabel: { show: false } },
        { gridIndex: 2, type: "value", position: "right", min: -190, max: 29, splitLine: { show: false },
          axisLine: { show: false, onZero: false },
          axisTick: { show: true, inside: true, length: 4, lineStyle: { color: AXIS }, customValues: cbarTicks },
          axisLabel: { ...lab, margin: 7, customValues: cbarTicks },
          name: tempName, nameLocation: "middle", nameGap: 44, nameRotate: 90, nameTextStyle: { rich: nameRich } },
      ],
      series: [
        ...topSeries,
        { type: "scatter", xAxisIndex: 0, yAxisIndex: 0, data: [], silent: true, z: 5,
          markLine: {
            silent: true, symbol: ["none", "arrow"], symbolSize: 15, label: { show: false },
            lineStyle: { color: "#222", width: 1, type: "solid" },
            data: arrows.map((a) => [{ coord: a.from }, { coord: a.to }]),
          } },
        { type: "scatter", xAxisIndex: 1, yAxisIndex: 1, data: bandPoints(), symbol: "rect", symbolSize: 4.6, clip: false, silent: true,
          itemStyle: { color: "#0000ff" } },
        { type: "scatter", xAxisIndex: 1, yAxisIndex: 1, data: pairs(tempScatter), symbol: "rect", symbolSize: 4.2, clip: false, silent: true,
          itemStyle: { color: "#0000ff" } },
        { type: "custom", xAxisIndex: 3, yAxisIndex: 3, data: [[0, -190, 1, 29]], silent: true, z: 1,
          renderItem: (_: any, api: any) => {
            const a = api.coord([api.value(0), api.value(1)]);
            const b = api.coord([api.value(2), api.value(3)]);
            return {
              type: "rect",
              shape: { x: a[0], y: b[1], width: b[0] - a[0], height: a[1] - b[1] },
              style: { fill: new echarts.graphic.LinearGradient(0, 0, 0, 1, stops.slice().reverse()), stroke: "#808080", lineWidth: 1 },
            };
          } },
      ],
      graphic: [
        { type: "text", left: 483, top: 38, z: 100, style: { text: "Operation", fontFamily: SERIF, fontSize: 28, fill: "#222" } },
        { type: "text", left: 181, top: 282, z: 100, style: { text: "Startup", fontFamily: SERIF, fontSize: 28, fill: "#222" } },
      ],
    });
    return () => chart.dispose();
  }, []);
  return <div ref={ref} style={{ position: "absolute", left: 0, top: 0, width: 984, height: 841 }} />;
}
